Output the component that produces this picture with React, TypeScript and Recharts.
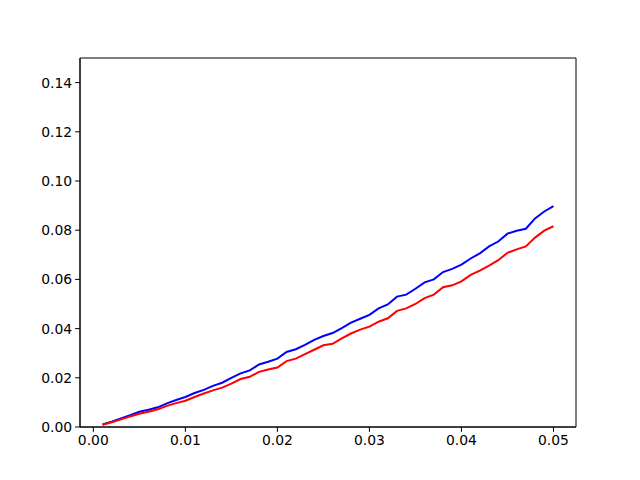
import React from 'react'
import { LineChart, Line, XAxis, YAxis, ReferenceArea } from 'recharts'

// x steps 0.001 .. 0.050
const xs = [
  0.001, 0.002, 0.003, 0.004, 0.005, 0.006, 0.007, 0.008, 0.009, 0.010,
  0.011, 0.012, 0.013, 0.014, 0.015, 0.016, 0.017, 0.018, 0.019, 0.020,
  0.021, 0.022, 0.023, 0.024, 0.025, 0.026, 0.027, 0.028, 0.029, 0.030,
  0.031, 0.032, 0.033, 0.034, 0.035, 0.036, 0.037, 0.038, 0.039, 0.040,
  0.041, 0.042, 0.043, 0.044, 0.045, 0.046, 0.047, 0.048, 0.049, 0.050,
]

const blue = [
  0.0010, 0.0022, 0.0035, 0.0048, 0.0062, 0.0070, 0.0080, 0.0096, 0.0110, 0.0122,
  0.0138, 0.0151, 0.0167, 0.0180, 0.0200, 0.0218, 0.0230, 0.0254, 0.0265, 0.0278,
  0.0305, 0.0316, 0.0334, 0.0354, 0.0370, 0.0382, 0.0402, 0.0424, 0.0440, 0.0456,
  0.0482, 0.0498, 0.0530, 0.0538, 0.0562, 0.0588, 0.0600, 0.0630, 0.0643, 0.0660,
  0.0685, 0.0706, 0.0734, 0.0754, 0.0786, 0.0798, 0.0806, 0.0848, 0.0876, 0.0898,
]

const red = [
  0.0009, 0.0019, 0.0031, 0.0043, 0.0054, 0.0062, 0.0072, 0.0086, 0.0097, 0.0107,
  0.0122, 0.0136, 0.0149, 0.0160, 0.0176, 0.0195, 0.0204, 0.0224, 0.0234, 0.0242,
  0.0268, 0.0278, 0.0296, 0.0314, 0.0332, 0.0338, 0.0360, 0.0380, 0.0396, 0.0408,
  0.0428, 0.0442, 0.0472, 0.0482, 0.0500, 0.0524, 0.0538, 0.0568, 0.0576, 0.0592,
  0.0618, 0.0636, 0.0656, 0.0678, 0.0708, 0.0722, 0.0734, 0.0770, 0.0798, 0.0816,
]

const xTicks = [0, 0.01, 0.02, 0.03, 0.04, 0.05]
const yTicks = [0, 0.02, 0.04, 0.06, 0.08, 0.1, 0.12, 0.14]

const data = xs.map((x, i) => ({ x, blue: blue[i], red: red[i] }))

const X_MIN = -0.00145
const X_MAX = 0.05245

const tickStyle = { fill: '#000', fontSize: 13.9, fontFamily: 'DejaVu Sans' }

export default function App() {
  return (
    <div style={{ position: 'absolute', left: 0, top: 0, background: '#fff' }}>
      <LineChart
        width={640}
        height={480}
        data={data}
        margin={{ top: 58, right: 64, bottom: 0, left: 0 }}
      >
        <XAxis
          dataKey="x"
          type="number"
          domain={[X_MIN, X_MAX]}
          allowDataOverflow
          ticks={xTicks}
          tickFormatter={(v: number) => v.toFixed(2)}
          height={53}
          tickSize={4.9}
          tickMargin={3}
          stroke="#000"
          tick={tickStyle}
          tickLine={{ stroke: '#000' }}
        />
        <YAxis
          type="number"
          domain={[0, 0.15]}
          allowDataOverflow
          ticks={yTicks}
          tickFormatter={(v: number) => v.toFixed(2)}
          width={80}
          tickSize={4.9}
          tickMargin={3}
          stroke="#000"
          tick={tickStyle}
          tickLine={{ stroke: '#000' }}
        />
        <ReferenceArea
          x1={X_MIN}
          x2={X_MAX}
          y1={0}
          y2={0.15}
          stroke="#000"
          strokeWidth={1}
          fill="none"
          ifOverflow="visible"
        />
        <Line
          type="linear"
          dataKey="blue"
          stroke="#0000ff"
          strokeWidth={2}
          dot={false}
          isAnimationActive={false}
        />
        <Line
          type="linear"
          dataKey="red"
          stroke="#ff0000"
          strokeWidth={2}
          dot={false}
          isAnimationActive={false}
        />
      </LineChart>
    </div>
  )
}
